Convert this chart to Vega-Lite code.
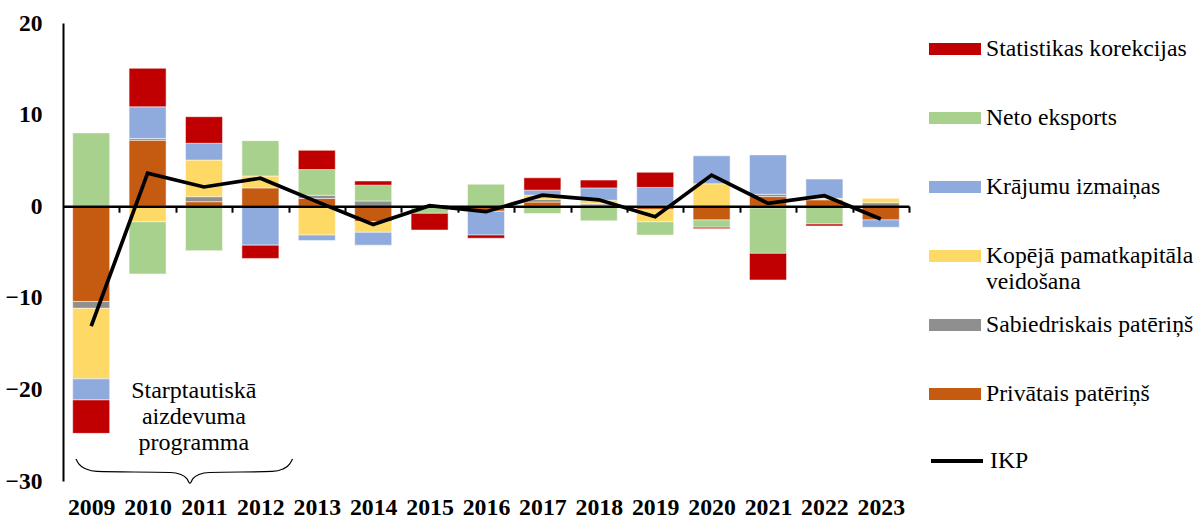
{
  "$schema": "https://vega.github.io/schema/vega-lite/v6.json",
  "width": 846,
  "height": 458,
  "autosize": {"type": "none"},
  "padding": {"left": 63, "top": 23, "right": 288, "bottom": 39},
  "background": "white",
  "config": {"view": {"stroke": null}, "font": "Liberation Serif"},
  "datasets": {
    "bars": [
      {"year": 2009, "k": "Privātais patēriņš", "o": 1, "v": -10.4},
      {"year": 2009, "k": "Sabiedriskais patēriņš", "o": 2, "v": -0.75},
      {"year": 2009, "k": "Kopējā pamatkapitāla veidošana", "o": 3, "v": -7.7},
      {"year": 2009, "k": "Krājumu izmaiņas", "o": 4, "v": -2.3},
      {"year": 2009, "k": "Neto eksports", "o": 5, "v": 8.0},
      {"year": 2009, "k": "Statistikas korekcijas", "o": 6, "v": -3.65},
      {"year": 2010, "k": "Privātais patēriņš", "o": 1, "v": 7.2},
      {"year": 2010, "k": "Sabiedriskais patēriņš", "o": 2, "v": 0.2},
      {"year": 2010, "k": "Kopējā pamatkapitāla veidošana", "o": 3, "v": -1.7},
      {"year": 2010, "k": "Krājumu izmaiņas", "o": 4, "v": 3.45},
      {"year": 2010, "k": "Neto eksports", "o": 5, "v": -5.7},
      {"year": 2010, "k": "Statistikas korekcijas", "o": 6, "v": 4.2},
      {"year": 2011, "k": "Privātais patēriņš", "o": 1, "v": 0.49},
      {"year": 2011, "k": "Sabiedriskais patēriņš", "o": 2, "v": 0.55},
      {"year": 2011, "k": "Kopējā pamatkapitāla veidošana", "o": 3, "v": 4.0},
      {"year": 2011, "k": "Krājumu izmaiņas", "o": 4, "v": 1.83},
      {"year": 2011, "k": "Neto eksports", "o": 5, "v": -4.85},
      {"year": 2011, "k": "Statistikas korekcijas", "o": 6, "v": 2.9},
      {"year": 2012, "k": "Privātais patēriņš", "o": 1, "v": 2.0},
      {"year": 2012, "k": "Kopējā pamatkapitāla veidošana", "o": 3, "v": 1.3},
      {"year": 2012, "k": "Krājumu izmaiņas", "o": 4, "v": -4.25},
      {"year": 2012, "k": "Neto eksports", "o": 5, "v": 3.85},
      {"year": 2012, "k": "Statistikas korekcijas", "o": 6, "v": -1.45},
      {"year": 2013, "k": "Privātais patēriņš", "o": 1, "v": 0.85},
      {"year": 2013, "k": "Sabiedriskais patēriņš", "o": 2, "v": 0.35},
      {"year": 2013, "k": "Kopējā pamatkapitāla veidošana", "o": 3, "v": -3.15},
      {"year": 2013, "k": "Krājumu izmaiņas", "o": 4, "v": -0.6},
      {"year": 2013, "k": "Neto eksports", "o": 5, "v": 2.8},
      {"year": 2013, "k": "Statistikas korekcijas", "o": 6, "v": 2.1},
      {"year": 2014, "k": "Privātais patēriņš", "o": 1, "v": -1.7},
      {"year": 2014, "k": "Sabiedriskais patēriņš", "o": 2, "v": 0.57},
      {"year": 2014, "k": "Kopējā pamatkapitāla veidošana", "o": 3, "v": -1.15},
      {"year": 2014, "k": "Krājumu izmaiņas", "o": 4, "v": -1.4},
      {"year": 2014, "k": "Neto eksports", "o": 5, "v": 1.73},
      {"year": 2014, "k": "Statistikas korekcijas", "o": 6, "v": 0.45},
      {"year": 2015, "k": "Privātais patēriņš", "o": 1, "v": 0.1},
      {"year": 2015, "k": "Neto eksports", "o": 5, "v": -0.78},
      {"year": 2015, "k": "Statistikas korekcijas", "o": 6, "v": -1.82},
      {"year": 2016, "k": "Privātais patēriņš", "o": 1, "v": -0.55},
      {"year": 2016, "k": "Krājumu izmaiņas", "o": 4, "v": -2.6},
      {"year": 2016, "k": "Neto eksports", "o": 5, "v": 2.4},
      {"year": 2016, "k": "Statistikas korekcijas", "o": 6, "v": -0.35},
      {"year": 2017, "k": "Privātais patēriņš", "o": 1, "v": 0.45},
      {"year": 2017, "k": "Sabiedriskais patēriņš", "o": 2, "v": 0.3},
      {"year": 2017, "k": "Kopējā pamatkapitāla veidošana", "o": 3, "v": 0.45},
      {"year": 2017, "k": "Krājumu izmaiņas", "o": 4, "v": 0.55},
      {"year": 2017, "k": "Neto eksports", "o": 5, "v": -0.8},
      {"year": 2017, "k": "Statistikas korekcijas", "o": 6, "v": 1.35},
      {"year": 2018, "k": "Privātais patēriņš", "o": 1, "v": 0.15},
      {"year": 2018, "k": "Sabiedriskais patēriņš", "o": 2, "v": 0.15},
      {"year": 2018, "k": "Kopējā pamatkapitāla veidošana", "o": 3, "v": 0.35},
      {"year": 2018, "k": "Krājumu izmaiņas", "o": 4, "v": 1.35},
      {"year": 2018, "k": "Neto eksports", "o": 5, "v": -1.6},
      {"year": 2018, "k": "Statistikas korekcijas", "o": 6, "v": 0.85},
      {"year": 2019, "k": "Privātais patēriņš", "o": 1, "v": -0.4},
      {"year": 2019, "k": "Sabiedriskais patēriņš", "o": 2, "v": 0.1},
      {"year": 2019, "k": "Kopējā pamatkapitāla veidošana", "o": 3, "v": -1.3},
      {"year": 2019, "k": "Krājumu izmaiņas", "o": 4, "v": 1.95},
      {"year": 2019, "k": "Neto eksports", "o": 5, "v": -1.45},
      {"year": 2019, "k": "Statistikas korekcijas", "o": 6, "v": 1.65},
      {"year": 2020, "k": "Privātais patēriņš", "o": 1, "v": -1.5},
      {"year": 2020, "k": "Kopējā pamatkapitāla veidošana", "o": 3, "v": 2.45},
      {"year": 2020, "k": "Krājumu izmaiņas", "o": 4, "v": 3.05},
      {"year": 2020, "k": "Neto eksports", "o": 5, "v": -0.8},
      {"year": 2020, "k": "Statistikas korekcijas", "o": 6, "v": -0.15},
      {"year": 2021, "k": "Privātais patēriņš", "o": 1, "v": 1.05},
      {"year": 2021, "k": "Sabiedriskais patēriņš", "o": 2, "v": 0.25},
      {"year": 2021, "k": "Kopējā pamatkapitāla veidošana", "o": 3, "v": -0.2},
      {"year": 2021, "k": "Krājumu izmaiņas", "o": 4, "v": 4.3},
      {"year": 2021, "k": "Neto eksports", "o": 5, "v": -4.95},
      {"year": 2021, "k": "Statistikas korekcijas", "o": 6, "v": -2.9},
      {"year": 2022, "k": "Privātais patēriņš", "o": 1, "v": 0.7},
      {"year": 2022, "k": "Kopējā pamatkapitāla veidošana", "o": 3, "v": 0.16},
      {"year": 2022, "k": "Krājumu izmaiņas", "o": 4, "v": 2.1},
      {"year": 2022, "k": "Neto eksports", "o": 5, "v": -1.95},
      {"year": 2022, "k": "Statistikas korekcijas", "o": 6, "v": -0.2},
      {"year": 2023, "k": "Privātais patēriņš", "o": 1, "v": -1.5},
      {"year": 2023, "k": "Sabiedriskais patēriņš", "o": 2, "v": 0.38},
      {"year": 2023, "k": "Kopējā pamatkapitāla veidošana", "o": 3, "v": 0.48},
      {"year": 2023, "k": "Krājumu izmaiņas", "o": 4, "v": -0.8}
    ],
    "ikp": [
      {"year": 2009, "s": "IKP", "v": -13.1},
      {"year": 2010, "s": "IKP", "v": 3.6},
      {"year": 2011, "s": "IKP", "v": 2.1},
      {"year": 2012, "s": "IKP", "v": 3.05},
      {"year": 2013, "s": "IKP", "v": 0.5},
      {"year": 2014, "s": "IKP", "v": -2.0},
      {"year": 2015, "s": "IKP", "v": 0.05},
      {"year": 2016, "s": "IKP", "v": -0.6},
      {"year": 2017, "s": "IKP", "v": 1.2},
      {"year": 2018, "s": "IKP", "v": 0.7},
      {"year": 2019, "s": "IKP", "v": -1.15},
      {"year": 2020, "s": "IKP", "v": 3.4},
      {"year": 2021, "s": "IKP", "v": 0.3},
      {"year": 2022, "s": "IKP", "v": 1.15},
      {"year": 2023, "s": "IKP", "v": -1.4}
    ],
    "brace": [
      {"bx": 2008.73, "by": -27.6},
      {"bx": 2008.78, "by": -28.14},
      {"bx": 2008.91, "by": -28.69},
      {"bx": 2009.10, "by": -28.96},
      {"bx": 2010.40, "by": -29.07},
      {"bx": 2010.59, "by": -29.29},
      {"bx": 2010.70, "by": -29.78},
      {"bx": 2010.75, "by": -30.27},
      {"bx": 2010.80, "by": -29.78},
      {"bx": 2010.91, "by": -29.29},
      {"bx": 2011.10, "by": -29.07},
      {"bx": 2012.21, "by": -28.96},
      {"bx": 2012.40, "by": -28.69},
      {"bx": 2012.52, "by": -28.14},
      {"bx": 2012.57, "by": -27.6}
    ],
    "note": [
      {"label": "Starptautiskā\naizdevuma\nprogramma"}
    ]
  },
  "layer": [
    {
      "data": {"name": "bars"},
      "mark": {"type": "bar", "width": 37, "stroke": "white", "strokeWidth": 0.5},
      "encoding": {
        "x": {
          "field": "year", "type": "quantitative",
          "scale": {"domain": [2008.5, 2023.5], "nice": false, "zero": false, "padding": 0},
          "axis": {
            "orient": "bottom", "title": null,
            "values": [2009, 2010, 2011, 2012, 2013, 2014, 2015, 2016, 2017, 2018, 2019, 2020, 2021, 2022, 2023],
            "format": "d", "domain": false, "ticks": false, "grid": false,
            "labelFont": "Liberation Serif", "labelFontWeight": "bold", "labelFontSize": 23.8,
            "labelColor": "black", "labelPadding": 14, "labelFlush": false, "labelOverlap": false
          }
        },
        "y": {
          "field": "v", "type": "quantitative", "stack": "zero",
          "scale": {"domain": [-30, 20], "nice": false, "padding": 0},
          "axis": {
            "title": null, "values": [-30, -20, -10, 0, 10, 20], "grid": false, "ticks": false,
            "domainColor": "black", "domainWidth": 2,
            "labelFont": "Liberation Serif", "labelFontWeight": "bold", "labelFontSize": 23.5,
            "labelColor": "black", "labelPadding": 21
          }
        },
        "color": {
          "field": "k", "type": "nominal",
          "scale": {
            "domain": ["Statistikas korekcijas", "Neto eksports", "Krājumu izmaiņas", "Kopējā pamatkapitāla veidošana", "Sabiedriskais patēriņš", "Privātais patēriņš"],
            "range": ["#C00000", "#A9D18E", "#8FAADC", "#FFD966", "#8F8F8F", "#C55A11"]
          },
          "legend": {
            "orient": "none", "legendX": 866, "legendY": 0, "title": null, "padding": 0,
            "symbolType": "M-1,-0.23H1V0.23H-1Z", "symbolSize": 2704, "symbolStrokeWidth": 0,
            "labelFont": "Liberation Serif", "labelFontSize": 23.7, "labelColor": "black",
            "labelOffset": 5, "rowPadding": 5, "gridAlign": "all", "labelLimit": 400,
            "labelExpr": "datum.label == 'Kopējā pamatkapitāla veidošana' ? ['Kopējā pamatkapitāla', 'veidošana'] : datum.label"
          }
        },
        "order": {"field": "o", "type": "quantitative"}
      }
    },
    {
      "data": {"name": "ikp"},
      "mark": {"type": "line", "strokeWidth": 3.7, "strokeJoin": "miter"},
      "encoding": {
        "x": {
          "field": "year", "type": "quantitative",
          "axis": {
            "orient": "bottom", "title": null, "offset": -274.8,
            "values": [2009.5, 2010.5, 2011.5, 2012.5, 2013.5, 2014.5, 2015.5, 2016.5, 2017.5, 2018.5, 2019.5, 2020.5, 2021.5, 2022.5, 2023.5],
            "labels": false, "ticks": true, "tickSize": 6, "tickWidth": 2, "tickColor": "black",
            "domain": true, "domainColor": "black", "domainWidth": 2.5, "grid": false, "zindex": 1
          }
        },
        "y": {"field": "v", "type": "quantitative"},
        "stroke": {
          "field": "s", "type": "nominal",
          "scale": {"domain": ["IKP"], "range": ["black"]},
          "legend": {
            "orient": "none", "legendX": 866, "legendY": 410, "title": null, "padding": 0,
            "symbolType": "stroke", "symbolSize": 2704, "symbolStrokeWidth": 4,
            "labelFont": "Liberation Serif", "labelFontSize": 23.7, "labelColor": "black",
            "labelOffset": 5
          }
        }
      }
    },
    {
      "data": {"name": "brace"},
      "mark": {"type": "line", "interpolate": "monotone", "stroke": "black", "strokeWidth": 1.2},
      "encoding": {
        "x": {"field": "bx", "type": "quantitative", "axis": null},
        "y": {"field": "by", "type": "quantitative"}
      }
    },
    {
      "data": {"name": "note"},
      "mark": {"type": "text", "font": "Liberation Serif", "fontSize": 24, "align": "center", "baseline": "alphabetic", "lineBreak": "\n", "lineHeight": 26, "color": "black"},
      "encoding": {
        "x": {"datum": 2010.82, "type": "quantitative", "axis": null},
        "y": {"datum": -20.9, "type": "quantitative"},
        "text": {"field": "label"}
      }
    }
  ],
  "resolve": {"axis": {"x": "independent"}}
}
